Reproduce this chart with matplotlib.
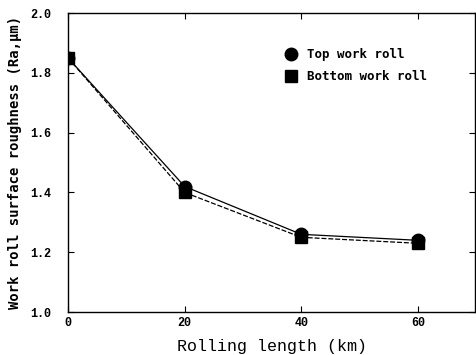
import matplotlib
matplotlib.use("Agg")
import matplotlib.pyplot as plt

rolling_length = [0, 20, 40, 60]
top_roll = [1.85, 1.42, 1.26, 1.24]
bottom_roll = [1.85, 1.40, 1.25, 1.23]
x_ticks = [0, 20, 40, 60]
y_ticks = [1.0, 1.2, 1.4, 1.6, 1.8, 2.0]

fig = plt.figure(figsize=(4.76, 3.55), dpi=100)
ax = fig.add_axes([0.143, 0.121, 0.855, 0.842])

ax.plot(rolling_length, top_roll, color="black", lw=0.9, ls="-",
        marker="o", ms=9, mfc="black", mec="black", label="Top work roll")
ax.plot(rolling_length, bottom_roll, color="black", lw=0.9, ls=(0, (4, 1.5)),
        marker="s", ms=9, mfc="black", mec="black", label="Bottom work roll")

ax.set_xlim(0, 69.8)
ax.set_ylim(1.0, 2.0)
ax.set_xticks(x_ticks)
ax.set_yticks(y_ticks)
ax.set_yticklabels([f"{v:.1f}" for v in y_ticks])
ax.tick_params(direction="in", top=True, right=True, length=4, width=0.8,
               labelsize=8.5)
ax.tick_params(axis="y", pad=12)
for lab in ax.get_xticklabels() + ax.get_yticklabels():
    lab.set_family("Liberation Mono")
    lab.set_fontweight("bold")
for s in ax.spines.values():
    s.set_linewidth(1.0)

ax.set_xlabel("Rolling length (km)", family="Liberation Mono", fontsize=12,
              labelpad=7)
ax.set_ylabel("Work roll surface roughness (Ra,\u03bcm)", family="DejaVu Sans Mono",
              fontweight="bold", fontsize=10, labelpad=6)

ax.legend(loc="upper right", bbox_to_anchor=(0.91, 0.92), frameon=False,
          prop={"family": "DejaVu Sans Mono", "weight": "bold", "size": 9},
          handlelength=0.8, handletextpad=0.9, labelspacing=0.7)

fig.savefig("out.png", dpi=100)
